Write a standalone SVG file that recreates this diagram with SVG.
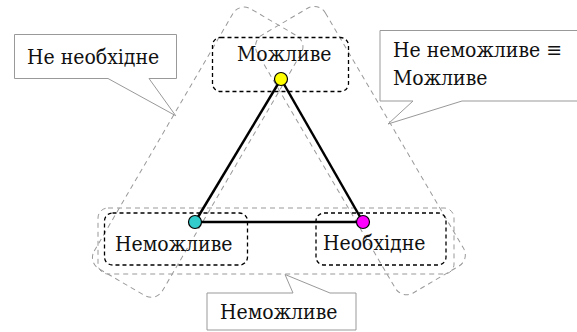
<svg xmlns="http://www.w3.org/2000/svg" width="577" height="332" viewBox="0 0 577 332">
<style>
  .txt { font-family: 'DejaVu Serif Condensed', 'DejaVu Serif', serif; font-stretch: condensed; font-size: 21px; fill: #111; }
  .group { fill: none; stroke: #999; stroke-width: 1; stroke-dasharray: 5 4; }
  .nodebox { fill: none; stroke: #000; stroke-width: 1.3; stroke-dasharray: 4 3; }
  .callout { fill: #fff; stroke: #999; stroke-width: 1; }
  .edge { stroke: #000; stroke-width: 2.5; fill: none; }
  .dot { stroke: #000; stroke-width: 1.2; }
</style>
<rect width="577" height="332" fill="#fff"/>
<g id="groups">
  <rect class="group" x="98" y="208" width="356" height="66" rx="10"/>
  <rect class="group" x="-150.5" y="-39.5" width="301" height="79" rx="13" transform="translate(197.7,152.2) rotate(-59.7)"/>
  <rect class="group" x="-149.5" y="-39.5" width="299" height="79" rx="13" transform="translate(360.4,150.6) rotate(59.6)"/>
</g>
<g id="connectors">
  <line class="edge" x1="281" y1="79" x2="195" y2="222"/>
  <line class="edge" x1="281" y1="79" x2="363" y2="222"/>
  <line class="edge" x1="195" y1="222" x2="363" y2="222"/>
</g>
<g id="node-mozhlyve">
  <rect class="nodebox" x="212.5" y="37.5" width="136" height="54" rx="8"/>
  <text class="txt" x="237" y="61">Можливе</text>
  <circle class="dot" cx="281" cy="79" r="6.5" fill="#ffff00"/>
</g>
<g id="node-nemozhlyve">
  <rect class="nodebox" x="104.5" y="213" width="143" height="52" rx="8"/>
  <text class="txt" x="115" y="251">Неможливе</text>
  <circle class="dot" cx="195" cy="222" r="6.5" fill="#33cccc"/>
</g>
<g id="node-neobkhidne">
  <rect class="nodebox" x="316" y="213" width="130" height="52" rx="8"/>
  <text class="txt" x="323" y="250">Необхідне</text>
  <circle class="dot" cx="363" cy="222" r="6.5" fill="#ff00ff"/>
</g>
<g id="callout-ne-neobkhidne">
  <polygon class="callout" points="14.5,34.5 176.5,34.5 176.5,78.5 149,78.5 175.7,115.7 108,78.5 14.5,78.5"/>
  <text class="txt" x="27" y="64">Не необхідне</text>
</g>
<g id="callout-ne-nemozhlyve">
  <polygon class="callout" points="380,30.5 580,30.5 580,101 462,101 388,124 413,101 380,101"/>
  <text class="txt" x="393" y="57">Не неможливе ≡</text>
  <text class="txt" x="393" y="85">Можливе</text>
</g>
<g id="callout-nemozhlyve">
  <polygon class="callout" points="207,293 293,293 285,274.5 330,293 356,293 356,330 207,330"/>
  <text class="txt" x="220" y="319">Неможливе</text>
</g>
</svg>
